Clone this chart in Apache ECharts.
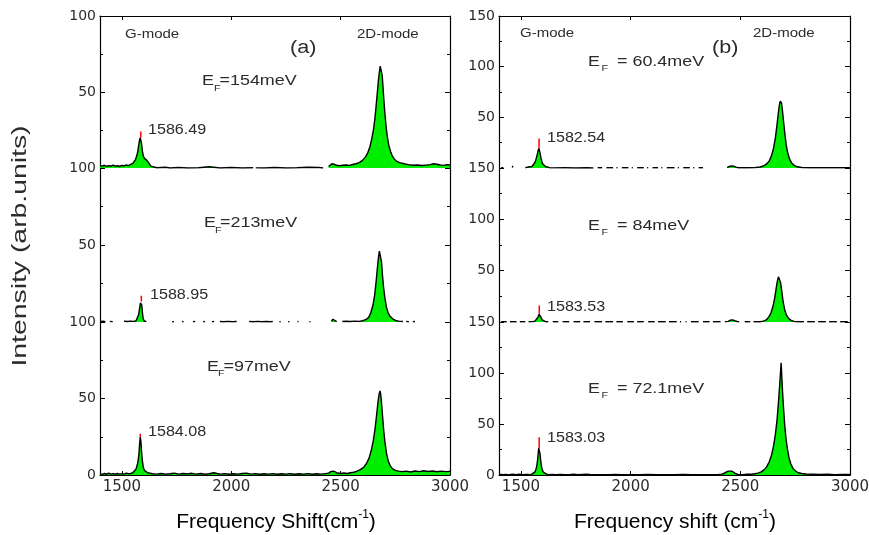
<!DOCTYPE html>
<html>
<head>
<meta charset="utf-8">
<script src="https://cdn.jsdelivr.net/npm/echarts@6/dist/echarts.min.js"></script>
<style>
  html, body { margin: 0; padding: 0; background: #fff; }
  #chart { width: 869px; height: 535px; }
</style>
</head>
<body>
<div id="chart"></div>
<script>
// Raman spectra: [shift (cm-1), intensity], null = gap in the trace
var specA154 = [[1400,1.5],[1410,1.2],[1420,1.8],[1430,1.0],[1440,1.6],[1450,1.3],[1460,1.9],[1470,1.2],[1480,1.5],[1490,1.0],[1500,1.7],[1510,1.4],[1520,2.0],[1530,1.6],[1540,2.4],[1550,3.0],[1556,4.0],[1562,5.5],[1568,8],[1573,11],[1577,15],[1581,18.5],[1584,20],[1587,19],[1590,16],[1594,11],[1598,8],[1602,6.5],[1606,6],[1610,5.5],[1614,5],[1618,4.8],[1622,3.5],[1626,2.2],[1632,1.2],[1640,0.5],[1660,0.2],[1700,0.5],[1720,0],[1760,0.3],[1800,0],[1850,0.2],[1900,0.8],[1950,0],[2000,0.3],[2050,0],[2100,0.2],[2105,null],[2112,0.1],[2150,0],[2200,0.3],[2250,0],[2300,0.2],[2350,0.5],[2400,0.3],[2420,0],[2430,null],[2445,1.0],[2452,1.5],[2460,2.8],[2470,2.5],[2480,1.8],[2495,1.5],[2510,1.8],[2525,2.0],[2540,1.7],[2555,2.3],[2570,2.8],[2585,3.5],[2600,5],[2612,7],[2624,10],[2634,14],[2642,19],[2650,25],[2657,33],[2663,42],[2668,50],[2673,58],[2677,63],[2681,67],[2684,68],[2687,66],[2690,61],[2694,53],[2698,44],[2703,35],[2708,27],[2714,20],[2720,15],[2728,11],[2736,8],[2745,6],[2755,4.5],[2770,3.5],[2790,2.8],[2810,2.2],[2830,1.8],[2850,2.0],[2870,1.6],[2890,1.9],[2910,2.2],[2925,2.8],[2940,2.5],[2955,2.0],[2970,1.7],[2985,2.2],[3000,2.0]];

var specA213 = [[1405,0.3],[1415,0.5],[1425,0.2],[1430,null],[1445,0.4],[1458,0.2],[1462,null],[1510,0.5],[1525,0.3],[1540,0.6],[1555,0.4],[1565,0.8],[1572,2],[1577,5],[1581,9],[1585,12.5],[1588,13.3],[1591,11],[1594,6],[1597,2.5],[1601,0.8],[1606,0.3],[1612,0.2],[1616,null],[1730,0.2],[1738,0.2],[1741,null],[1775,0.3],[1782,0.2],[1785,null],[1825,0.2],[1835,0.3],[1838,null],[1872,0.2],[1880,0.3],[1883,null],[1912,0.2],[1922,0.4],[1926,null],[1948,0.3],[1965,0.2],[1985,0.4],[2005,0.2],[2025,0.3],[2030,null],[2082,0.3],[2100,0.2],[2120,0.4],[2140,0.2],[2160,0.3],[2180,0.2],[2190,0.3],[2195,null],[2220,0.2],[2226,0.2],[2229,null],[2260,0.2],[2266,0.2],[2269,null],[2303,0.2],[2308,0.3],[2311,null],[2357,0.2],[2362,0.2],[2365,null],[2458,0.5],[2465,1.8],[2472,0.8],[2482,0.3],[2486,null],[2508,0.3],[2525,0.5],[2545,0.3],[2565,0.6],[2585,0.4],[2600,0.8],[2615,1.5],[2628,3],[2638,6],[2648,11],[2656,18],[2662,26],[2668,35],[2673,42],[2677,46],[2680,47],[2683,45],[2687,39],[2691,31],[2696,23],[2702,16],[2709,10],[2717,6],[2727,3.5],[2740,1.8],[2755,0.8],[2770,0.4],[2785,0.3],[2790,null],[2800,0.3],[2812,0.2],[2815,null],[2830,0.2],[2840,0.3],[2843,null]];

var specA97 = [[1400,0.8],[1410,0.4],[1420,1.0],[1430,0.5],[1440,1.2],[1450,0.6],[1460,0.9],[1470,0.5],[1480,1.0],[1490,0.6],[1500,0.9],[1510,0.5],[1520,1.2],[1530,0.8],[1540,1.1],[1550,1.5],[1558,2.5],[1565,4],[1571,7],[1575,10],[1578,14],[1581,20],[1584,25],[1587,22],[1590,15],[1594,9],[1598,5],[1603,3],[1610,2],[1618,1.5],[1628,1.2],[1640,0.8],[1660,0.6],[1680,1.0],[1700,0.5],[1720,0.8],[1740,1.2],[1760,0.6],[1780,1.0],[1800,0.7],[1820,1.1],[1840,0.6],[1860,1.0],[1880,0.5],[1900,0.8],[1920,1.5],[1935,1.0],[1950,0.6],[1970,0.9],[1990,0.5],[2010,0.8],[2030,0.6],[2050,1.0],[2070,1.2],[2090,0.6],[2110,0.9],[2130,0.5],[2150,0.8],[2170,0.6],[2190,0.9],[2210,0.5],[2230,0.8],[2250,0.6],[2270,0.9],[2290,0.5],[2310,0.8],[2330,0.6],[2350,0.9],[2370,0.5],[2390,0.8],[2410,0.6],[2430,0.9],[2445,1.2],[2455,2.2],[2465,2.5],[2475,2.0],[2485,1.3],[2500,1.0],[2515,1.3],[2530,1.0],[2545,1.5],[2560,1.8],[2575,2.5],[2590,3.5],[2605,5],[2618,7.5],[2630,11],[2640,16],[2650,23],[2658,31],[2665,40],[2671,48],[2676,53],[2680,55],[2683,53],[2687,47],[2692,38],[2697,29],[2703,21],[2710,14],[2718,9],[2727,6],[2738,4],[2750,3],[2765,2.5],[2780,2.2],[2800,2.5],[2820,2.0],[2840,2.6],[2860,2.2],[2880,2.8],[2900,2.3],[2920,2.6],[2940,2.1],[2960,2.5],[2980,2.2],[3000,2.4]];

var specB60 = [[1410,0.3],[1420,0.2],[1423,null],[1460,0.5],[1464,2],[1468,0.5],[1471,null],[1520,0.3],[1530,0.8],[1540,1.2],[1550,1.5],[1558,3],[1564,5.5],[1569,9],[1574,13],[1578,17],[1582,19.4],[1585,18],[1588,14],[1592,9],[1596,6],[1600,4],[1606,2.5],[1612,1.5],[1620,0.8],[1630,0.3],[1650,0.1],[1700,0.2],[1750,0],[1800,0.2],[1830,0],[1840,null],[1850,0.2],[1870,0.2],[1873,null],[1890,0.2],[1920,0.2],[1925,null],[1935,0.2],[1940,0.2],[1945,null],[1960,0.2],[1990,0.2],[1995,null],[2005,0.2],[2010,0.2],[2015,null],[2030,0.2],[2060,0.2],[2065,null],[2075,0.2],[2080,0.2],[2085,null],[2100,0.2],[2125,0.2],[2130,null],[2140,0.2],[2145,0.2],[2150,null],[2165,0.2],[2200,0.2],[2205,null],[2215,0.2],[2220,0.2],[2225,null],[2240,0.2],[2270,0.2],[2275,null],[2285,0.2],[2290,0.2],[2295,null],[2310,0.2],[2330,0.2],[2335,null],[2440,0.3],[2450,1.5],[2460,2],[2470,1.8],[2480,0.8],[2490,0.3],[2540,0.3],[2570,0.5],[2590,1],[2605,2],[2620,4],[2632,7],[2642,12],[2652,20],[2660,30],[2667,42],[2673,54],[2678,62],[2682,66],[2685,67],[2688,64],[2692,57],[2697,46],[2703,34],[2709,23],[2716,15],[2724,9],[2734,5],[2746,2.5],[2760,1.2],[2780,0.5],[2820,0.3],[2870,0.2],[2920,0.3],[2960,0.2],[3000,0.2]];

var specB84 = [[1410,0.2],[1435,0.2],[1440,null],[1450,0.2],[1480,0.2],[1485,null],[1495,0.2],[1520,0.3],[1525,null],[1535,0.2],[1555,0.4],[1565,1],[1572,2.5],[1578,5],[1583,7.5],[1586,8],[1589,6.5],[1593,4],[1597,2],[1603,0.8],[1612,0.3],[1625,0.2],[1630,null],[1645,0.2],[1670,0.2],[1675,null],[1690,0.2],[1720,0.2],[1725,null],[1740,0.2],[1770,0.2],[1775,null],[1785,0.2],[1815,0.2],[1820,null],[1835,0.2],[1870,0.2],[1875,null],[1885,0.2],[1920,0.2],[1925,null],[1935,0.2],[1965,0.2],[1970,null],[1985,0.2],[2015,0.2],[2020,null],[2030,0.2],[2060,0.2],[2065,null],[2080,0.2],[2110,0.2],[2115,null],[2125,0.2],[2160,0.2],[2165,null],[2175,0.2],[2210,0.2],[2215,null],[2225,0.2],[2230,0.2],[2235,null],[2250,0.2],[2255,0.2],[2260,null],[2275,0.2],[2310,0.2],[2315,null],[2330,0.2],[2360,0.2],[2365,null],[2375,0.2],[2410,0.2],[2415,null],[2430,0.3],[2445,0.6],[2455,1.8],[2465,2],[2475,1.2],[2485,0.5],[2495,0.3],[2500,null],[2520,0.2],[2545,0.2],[2550,null],[2560,0.2],[2590,0.3],[2605,0.8],[2618,2],[2630,5],[2640,9],[2650,16],[2658,25],[2665,35],[2670,41],[2674,44],[2677,44.7],[2680,43],[2684,38],[2689,30],[2695,20],[2702,12],[2710,7],[2720,3.5],[2732,1.5],[2745,0.6],[2760,0.3],[2790,0.2],[2795,null],[2805,0.2],[2840,0.2],[2845,null],[2855,0.2],[2890,0.2],[2895,null],[2905,0.2],[2940,0.2],[2945,null],[2955,0.2],[2990,0.2]];

var specB72 = [[1400,0.3],[1410,0.5],[1420,0.2],[1430,0.6],[1440,0.3],[1450,0.4],[1460,0.8],[1464,2.5],[1468,0.6],[1480,0.4],[1490,0.8],[1500,0.5],[1510,0.3],[1520,0.6],[1530,0.5],[1540,0.4],[1550,0.8],[1558,1.5],[1564,3],[1569,6],[1573,10],[1576,15],[1579,22],[1581,26.3],[1584,25],[1587,21],[1590,14],[1594,8],[1598,4.5],[1603,2.5],[1610,1.5],[1618,0.8],[1628,0.4],[1640,0.5],[1660,0.3],[1680,0.6],[1700,0.4],[1720,0.3],[1740,0.8],[1760,0.2],[1780,0.5],[1800,0.7],[1820,0.3],[1850,0.2],[1880,0.4],[1900,0.3],[1930,0.5],[1960,0.2],[2000,0.4],[2040,0.3],[2080,0.5],[2120,0.2],[2160,0.4],[2200,0.3],[2240,0.5],[2280,0.2],[2320,0.4],[2360,0.3],[2400,0.5],[2415,0.8],[2425,1.5],[2435,2.8],[2445,3.8],[2453,4.3],[2461,3.8],[2470,2.5],[2480,1.2],[2490,0.6],[2510,0.4],[2530,0.7],[2550,0.8],[2565,1.2],[2580,1.8],[2595,3],[2608,5],[2620,8],[2632,13],[2643,20],[2652,29],[2660,40],[2667,53],[2672,66],[2676,78],[2680,90],[2683,100],[2686,110],[2688,102],[2690,92],[2693,80],[2697,66],[2702,50],[2708,36],[2715,25],[2722,17],[2730,11],[2740,6.5],[2752,3.8],[2765,2.2],[2780,1.5],[2800,1],[2830,0.8],[2860,0.5],[2900,0.8],[2930,0.4],[2960,0.6],[3000,0.5]];

// fitted G peak markers (red): position, top of trace, top of marker
var gPeakPos = [1586.49, 1588.95, 1584.08, 1582.54, 1583.53, 1583.03];
var gPeakBase = [20, 13.3, 25, 19.4, 8, 26.3];
var gPeakTop = [24, 17, 27, 29, 16, 37];
var gPeakLabels = ['1586.49', '1588.95', '1584.08', '1582.54', '1583.53', '1583.03'];
var fermiLabels = ['=154meV', '=213meV', '=97meV', ' = 60.4meV', ' = 84meV', ' = 72.1meV'];

var xTicks = [1500, 2000, 2500, 3000];
var yMaxes = [100, 150];

var spectra = [specA154, specA213, specA97, specB60, specB84, specB72];

var panelLeft = [100, 499], panelWidth = [350, 351];
var rowTop = [16, 168, 322], rowHeight = [152, 154, 153];

var FONT = 'Liberation Sans, Arial, sans-serif';
var TXT = '#2b2b2b';

var grid = [], xAxis = [], yAxis = [], series = [];

for (var p = 0; p < 2; p++) {
  for (var r = 0; r < 3; r++) {
    var gi = p * 3 + r;
    var ymax = yMaxes[p];
    grid.push({left: panelLeft[p], top: rowTop[r], width: panelWidth[p], height: rowHeight[r], outerBoundsMode: 'none', containLabel: false});

    var bottomIdx = xAxis.length;
    xAxis.push({
      gridIndex: gi, type: 'value', min: 1400, max: 3000, position: 'bottom',
      axisLine: {show: r === 2, onZero: false, lineStyle: {color: '#000', width: 1.2}},
      axisTick: {show: r === 2, inside: true, length: 4, customValues: xTicks, lineStyle: {color: '#000'}},
      axisLabel: {show: r === 2, customValues: xTicks, margin: 5, fontSize: 15, fontFamily: 'DejaVu Sans', color: TXT,
        formatter: function (v) { return String(v); }},
      splitLine: {show: false}
    });
    if (r === 0) {
      xAxis.push({
        gridIndex: gi, type: 'value', min: 1400, max: 3000, position: 'top',
        axisLine: {show: true, onZero: false, lineStyle: {color: '#000', width: 1.2}},
        axisTick: {show: true, inside: true, length: 4, customValues: [1500, 2000, 2500], lineStyle: {color: '#000'}},
        axisLabel: {show: false},
        splitLine: {show: false}
      });
    }

    var leftIdx = yAxis.length;
    yAxis.push({
      gridIndex: gi, type: 'value', min: 0, max: ymax, interval: 50, position: 'left',
      axisLine: {show: true, onZero: false, lineStyle: {color: '#000', width: 1.2}},
      axisTick: {show: true, inside: true, length: 5, lineStyle: {color: '#000'}},
      minorTick: {show: true, splitNumber: 2, length: 3, lineStyle: {color: '#000'}},
      axisLabel: {showMinLabel: r === 2, margin: 4, fontSize: 14, fontFamily: 'DejaVu Sans', color: TXT},
      splitLine: {show: false}
    });
    yAxis.push({
      gridIndex: gi, type: 'value', min: 0, max: ymax, interval: 50, position: 'right',
      axisLine: {show: true, onZero: false, lineStyle: {color: '#000', width: 1.2}},
      axisTick: {show: true, inside: true, length: 5, lineStyle: {color: '#000'}},
      minorTick: {show: true, splitNumber: 2, length: 3, lineStyle: {color: '#000'}},
      axisLabel: {show: false},
      splitLine: {show: false}
    });

    series.push({
      type: 'line', xAxisIndex: bottomIdx, yAxisIndex: leftIdx,
      data: spectra[gi], showSymbol: false, connectNulls: false,
      lineStyle: {color: '#000', width: 1.4},
      areaStyle: {color: '#00ee00', opacity: 1, origin: 'start'},
      z: 2
    });
    series.push({
      type: 'line', xAxisIndex: bottomIdx, yAxisIndex: leftIdx,
      data: [[gPeakPos[gi], gPeakBase[gi]], [gPeakPos[gi], gPeakTop[gi]]],
      showSymbol: false, lineStyle: {color: '#ff0000', width: 1.5}, z: 3
    });
  }
}

// annotation text (the source figure is stretched horizontally, hence scaleX)
function txt(x, y, s, size, align, sx) {
  return {
    type: 'text', x: x, y: y, scaleX: sx || 1.25, z: 10,
    style: {text: s, x: 0, y: 0, fill: TXT, font: size + 'px ' + FONT, align: align || 'left', verticalAlign: 'middle'}
  };
}

var graphic = [
  txt(125, 35, 'G-mode', 12),
  txt(357, 35, '2D-mode', 12),
  txt(290, 48, '(a)', 18, 'left', 1.2),
  txt(520, 34, 'G-mode', 12),
  txt(753, 34, '2D-mode', 12),
  txt(712, 48, '(b)', 18, 'left', 1.2)
];

var peakLabelPos = [[148, 130], [150, 295], [148, 432], [547, 138], [547, 307], [547, 438]];
var fermiPos = [
  [202, 81, 214, 89, 219.5], [204, 223, 215, 231, 220], [207, 367, 218, 374, 223.5],
  [588, 62, 601.5, 69, 612], [588, 226, 601.5, 233, 612], [588, 389, 601.5, 396, 612]
];
for (var i = 0; i < 6; i++) {
  graphic.push(txt(peakLabelPos[i][0], peakLabelPos[i][1], gPeakLabels[i], 14, 'left', 1.15));
  var f = fermiPos[i];
  graphic.push(txt(f[0], f[1], 'E', 14, 'left', 1.28));
  graphic.push(txt(f[2], f[3], 'F', 9, 'left', 1.2));
  graphic.push(txt(f[4], f[1], fermiLabels[i], 14, 'left', 1.28));
}

graphic.push({
  type: 'text', x: 20, y: 246, rotation: Math.PI / 2, scaleX: 1.35, z: 10,
  style: {text: 'Intensity (arb.units)', x: 0, y: 0, fill: TXT, font: '21px ' + FONT, align: 'center', verticalAlign: 'middle'}
});
var xTitleRich = {
  a: {fontSize: 21, fontFamily: FONT, color: TXT, lineHeight: 26},
  s: {fontSize: 12, fontFamily: FONT, color: TXT, verticalAlign: 'top', lineHeight: 26}
};
graphic.push({
  type: 'text', x: 276, y: 522, z: 10,
  style: {text: '{a|Frequency Shift(cm}{s|-1}{a|)}', rich: xTitleRich, x: 0, y: 0, align: 'center', verticalAlign: 'middle'}
});
graphic.push({
  type: 'text', x: 675, y: 522, z: 10,
  style: {text: '{a|Frequency shift (cm}{s|-1}{a|)}', rich: xTitleRich, x: 0, y: 0, align: 'center', verticalAlign: 'middle'}
});

var chart = echarts.init(document.getElementById('chart'));
chart.setOption({
  animation: false,
  backgroundColor: '#fff',
  grid: grid,
  xAxis: xAxis,
  yAxis: yAxis,
  series: series,
  graphic: graphic
});
</script>
</body>
</html>
